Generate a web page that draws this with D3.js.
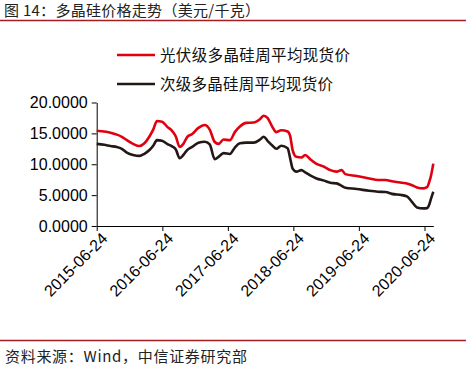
<!DOCTYPE html>
<html>
<head>
<meta charset="utf-8">
<script src="https://cdn.jsdelivr.net/npm/d3@7/dist/d3.min.js"></script>
<style>
  html, body { margin: 0; padding: 0; background: #fff; }
  svg { display: block; }
  .cjk { font-family: "Noto Sans CJK SC", "Noto Sans", sans-serif; }
  .axis text { font-family: "Liberation Sans", Arial, sans-serif; font-size: 16px; fill: #000; }
  .axis path, .axis line { stroke: #000; stroke-width: 1; }
</style>
</head>
<body>
<div id="chart"></div>
<script>
// weekly spot prices (USD/kg)
const dates = [
  '2015-06-24', '2015-08-05', '2015-09-09', '2015-10-14', '2015-11-11', '2015-12-09',
  '2016-01-13', '2016-02-17', '2016-03-16', '2016-04-13', '2016-05-04', '2016-05-25',
  '2016-06-22', '2016-07-20', '2016-08-17', '2016-09-07', '2016-09-28', '2016-10-19',
  '2016-11-09', '2016-12-07', '2017-01-11', '2017-02-15', '2017-03-15', '2017-04-12',
  '2017-05-03', '2017-05-31', '2017-07-05', '2017-08-02', '2017-08-30', '2017-10-04',
  '2017-11-15', '2017-12-20', '2018-01-10', '2018-01-31', '2018-02-28', '2018-03-21',
  '2018-04-18', '2018-05-23', '2018-06-06', '2018-06-20', '2018-07-11', '2018-08-08',
  '2018-08-29', '2018-09-26', '2018-10-31', '2018-12-12', '2019-01-16', '2019-02-20',
  '2019-03-20', '2019-04-10', '2019-06-12', '2019-08-21', '2019-10-09', '2019-11-20',
  '2019-12-25', '2020-02-19', '2020-03-18', '2020-04-15', '2020-05-13', '2020-06-17',
  '2020-07-08', '2020-07-22', '2020-07-29', '2020-08-12'
];
const solarGrade = [
  15.43, 15.3, 15.1, 14.8, 14.45, 13.9,
  13.3, 12.95, 13.4, 14.5, 15.6, 17.0,
  16.9, 16.1, 15.4, 14.5, 12.8, 13.3,
  14.4, 14.9, 15.9, 16.35, 15.6, 13.6,
  13.3, 14.0, 13.9, 15.2, 16.1, 16.7,
  16.75, 17.3, 17.85, 17.5, 16.0, 15.2,
  15.5, 15.3, 14.6, 12.3, 11.2, 11.1,
  11.5, 10.8, 10.05, 9.6, 9.05, 8.8,
  9.05, 8.4, 8.1, 7.7, 7.45, 7.45,
  7.25, 7.0, 6.9, 6.6, 6.25, 6.1,
  6.3, 7.3, 8.0, 10.1
];
const offGrade = [
  13.3, 13.15, 12.95, 12.8, 12.5, 11.9,
  11.5, 11.35, 11.7, 12.3, 13.0, 13.9,
  13.8, 13.3, 12.9, 12.4, 11.0, 11.5,
  12.3, 12.8, 13.5, 13.65, 13.2, 10.8,
  11.2, 11.8, 11.65, 12.7, 13.4, 13.5,
  13.5, 14.0, 14.45, 13.8, 13.0, 12.5,
  13.0, 12.6, 11.0, 9.3, 8.8, 9.05,
  8.7, 8.2, 7.7, 7.35, 7.0, 6.9,
  6.5, 6.2, 6.0, 5.7, 5.55, 5.5,
  5.2, 5.0, 4.8, 3.9, 3.0, 2.85,
  2.9, 3.6, 4.3, 5.55
];
const seriesNames = ['光伏级多晶硅周平均现货价', '次级多晶硅周平均现货价'];
const seriesColors = ['#e1000f', '#231815'];
const xTickDates = ['2015-06-24', '2016-06-24', '2017-06-24', '2018-06-24', '2019-06-24', '2020-06-24'];
const yTicks = [0, 5, 10, 15, 20];
const title = '图 14：多晶硅价格走势（美元/千克）';
const source = '资料来源：Wind，中信证券研究部';

const W = 466, H = 365;
const parse = d3.timeParse('%Y-%m-%d');

let svg = d3.select('#chart').append('svg')
  .attr('width', W)
  .attr('height', H);

// title + rules
svg.append('text')
  .attr('class', 'cjk')
  .attr('x', 4)
  .attr('y', 16)
  .attr('textLength', 256)
  .attr('lengthAdjust', 'spacing')
  .style('font-size', '15px')
  .style('fill', '#222')
  .text(title);

svg.append('line')
  .attr('x1', 0).attr('x2', W)
  .attr('y1', 20.5).attr('y2', 20.5)
  .style('stroke', '#a31d24')
  .style('stroke-width', 1.5);

svg.append('line')
  .attr('x1', 0).attr('x2', W)
  .attr('y1', 340.5).attr('y2', 340.5)
  .style('stroke', '#a31d24')
  .style('stroke-width', 1.5);

svg.append('text')
  .attr('class', 'cjk')
  .attr('x', 5)
  .attr('y', 362)
  .attr('textLength', 242)
  .attr('lengthAdjust', 'spacing')
  .style('font-size', '15px')
  .style('fill', '#222')
  .text(source);

// scales
let x = d3.scaleTime()
  .domain([parse('2015-06-24'), parse('2020-08-12')])
  .range([96.7, 433.3]);
let y = d3.scaleLinear()
  .domain([0, 20])
  .range([226, 102.5]);

let gx = svg.append('g')
  .attr('class', 'axis')
  .attr('transform', 'translate(0,226)')
  .call(d3.axisBottom(x)
    .tickValues(xTickDates.map(parse))
    .tickFormat(d3.timeFormat('%Y-%m-%d'))
    .tickSize(5)
    .tickSizeOuter(0));
gx.selectAll('text')
  .attr('text-anchor', 'end')
  .attr('dx', '-0.1em')
  .attr('dy', '0.6em')
  .attr('transform', 'rotate(-45)');

svg.append('g')
  .attr('class', 'axis')
  .attr('transform', 'translate(96.7,0)')
  .call(d3.axisLeft(y)
    .tickValues(yTicks)
    .tickFormat(d3.format('.4f'))
    .tickSize(5)
    .tickPadding(4)
    .tickSizeOuter(0));

// lines
let line = d3.line()
  .x(function(d) { return x(d.date) })
  .y(function(d) { return y(d.v) })
  .curve(d3.curveMonotoneX);

[solarGrade, offGrade].forEach(function(vals, i) {
  let pts = dates.map(function(d, j) { return {date: parse(d), v: vals[j]} });
  svg.append('path')
    .datum(pts)
    .attr('d', line)
    .style('fill', 'none')
    .style('stroke', seriesColors[i])
    .style('stroke-width', 2.6)
    .style('stroke-linejoin', 'round');
});

// legend
const legendWidths = [190, 173];
seriesNames.forEach(function(name, i) {
  let ly = 55 + i * 29;
  svg.append('line')
    .attr('x1', 117).attr('x2', 155)
    .attr('y1', ly).attr('y2', ly)
    .style('stroke', seriesColors[i])
    .style('stroke-width', 2.6);
  svg.append('text')
    .attr('class', 'cjk')
    .attr('x', 160)
    .attr('y', ly + 5.5)
    .attr('textLength', legendWidths[i])
    .attr('lengthAdjust', 'spacing')
    .style('font-size', '15.5px')
    .style('fill', '#111')
    .text(name);
});
</script>
</body>
</html>
